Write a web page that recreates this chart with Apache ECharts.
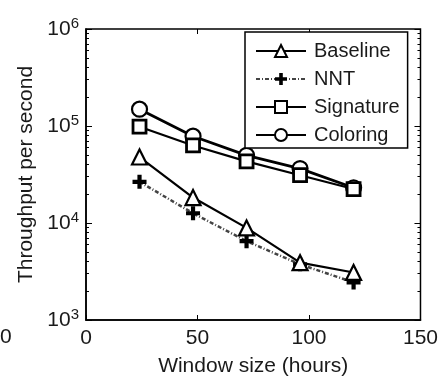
<!DOCTYPE html>
<html><head><meta charset="utf-8">
<script src="https://cdn.jsdelivr.net/npm/echarts@6/dist/echarts.min.js"></script>
<style>html,body{margin:0;padding:0;background:#fff}#c{width:441px;height:382px}</style>
</head><body><div id="c"></div>
<script>
const windowHours = [24, 48, 72, 96, 120];
const baseline = [47900, 18300, 8900, 3900, 3090];
const nnt = [26600, 12600, 6500, 3750, 2440];
const signature = [98400, 63000, 43200, 31100, 22400];
const coloring = [149000, 78500, 49800, 36400, 23100];
const xTicks = [0, 50, 100, 150];
const yMajor = [1000, 10000, 100000, 1000000];
const yMinor = [2000,3000,4000,5000,6000,7000,8000,9000,20000,30000,40000,50000,60000,70000,80000,90000,200000,300000,400000,500000,600000,700000,800000,900000];
const seriesNames = ['Baseline', 'NNT', 'Signature', 'Coloring'];

const plus = 'path://M3.5,0 H6.5 V3.5 H10 V6.5 H6.5 V10 H3.5 V6.5 H0 V3.5 H3.5 Z';
const txt = '#1a1a1a';
const font = 'Liberation Sans, Arial, sans-serif';

function pairs(v) { return windowHours.map((x, i) => [x, v[i]]); }

const chart = echarts.init(document.getElementById('c'), null, {renderer: 'canvas'});
const yLabel = {
  show: true, margin: 7, fontFamily: font, color: txt,
  formatter: v => '{b|10}{s|' + Math.round(Math.log10(v)) + '}',
  rich: {
    b: {fontSize: 21, fontFamily: font, color: txt},
    s: {fontSize: 15, fontFamily: font, color: txt, verticalAlign: 'top', padding: [0, 0, 10, 0]}
  }
};
const baseAxisY = {type: 'log', min: 1000, max: 1000000, logBase: 10, splitLine: {show: false}};
chart.setOption({
  animation: false,
  backgroundColor: '#fff',
  grid: {left: 86, right: 19, top: 29, bottom: 59, show: true, borderColor: '#000', borderWidth: 1.5, backgroundColor: 'transparent'},
  xAxis: [
    {type: 'value', min: 0, max: 150, interval: 50, position: 'bottom',
     name: 'Window size (hours)', nameLocation: 'middle', nameGap: 36,
     nameTextStyle: {fontSize: 21, fontFamily: font, color: txt},
     axisLine: {show: true, lineStyle: {color: '#000', width: 1.5}},
     axisTick: {show: true, inside: true, length: 5, lineStyle: {color: '#000'}, customValues: xTicks},
     axisLabel: {show: true, margin: 8, fontSize: 21, fontFamily: font, color: txt, customValues: xTicks},
     splitLine: {show: false}},
    {type: 'value', min: 0, max: 150, interval: 50, position: 'top',
     axisLine: {show: false}, axisTick: {show: true, inside: true, length: 5, lineStyle: {color: '#000'}},
     axisLabel: {show: false}, splitLine: {show: false}}
  ],
  yAxis: [
    Object.assign({}, baseAxisY, {position: 'left',
      name: 'Throughput per second', nameLocation: 'middle', nameGap: 46,
      nameTextStyle: {fontSize: 21, fontFamily: font, color: txt},
      axisLine: {show: true, lineStyle: {color: '#000', width: 1.5}},
      axisTick: {show: true, inside: true, length: 6, lineStyle: {color: '#000'}, customValues: yMajor},
      axisLabel: Object.assign({customValues: yMajor}, yLabel)}),
    Object.assign({}, baseAxisY, {position: 'left', axisLine: {show: false},
      axisTick: {show: true, inside: true, length: 3, lineStyle: {color: '#000'}, customValues: yMinor},
      axisLabel: {show: false}}),
    Object.assign({}, baseAxisY, {position: 'right', axisLine: {show: false},
      axisTick: {show: true, inside: true, length: 6, lineStyle: {color: '#000'}, customValues: yMajor},
      axisLabel: {show: false}}),
    Object.assign({}, baseAxisY, {position: 'right', axisLine: {show: false},
      axisTick: {show: true, inside: true, length: 3, lineStyle: {color: '#000'}, customValues: yMinor},
      axisLabel: {show: false}})
  ],
  legend: {
    left: 245, top: 32, orient: 'vertical', itemWidth: 50, itemHeight: 15, itemGap: 8,
    padding: [9, 8, 3, 10], borderColor: '#000', borderWidth: 1.5, backgroundColor: '#fff',
    textStyle: {fontSize: 20, fontFamily: font, color: txt, padding: [0, 0, 0, 3]},
    data: seriesNames
  },
  graphic: [{type: 'text', left: 0, top: 327, style: {text: '0', fontSize: 21, fontFamily: font, fill: txt}}],
  series: [
    {name: 'Baseline', type: 'line', data: pairs(baseline), symbol: 'triangle', symbolSize: 15,
     lineStyle: {color: '#000', width: 2.2}, itemStyle: {color: '#fff', borderColor: '#000', borderWidth: 2.2}, z: 3},
    {name: 'NNT', type: 'line', data: pairs(nnt), symbol: plus, symbolSize: 14,
     lineStyle: {color: '#444', width: 2.5, type: [4, 2, 1, 2]}, itemStyle: {color: '#000', borderWidth: 0}, z: 2},
    {name: 'Signature', type: 'line', data: pairs(signature), symbol: 'rect', symbolSize: 13,
     lineStyle: {color: '#000', width: 2.2}, itemStyle: {color: '#fff', borderColor: '#000', borderWidth: 2.8}, z: 3},
    {name: 'Coloring', type: 'line', data: pairs(coloring), symbol: 'circle', symbolSize: 15,
     lineStyle: {color: '#000', width: 2.8}, itemStyle: {color: '#fff', borderColor: '#000', borderWidth: 2.2}, z: 2}
  ]
});
</script></body></html>
